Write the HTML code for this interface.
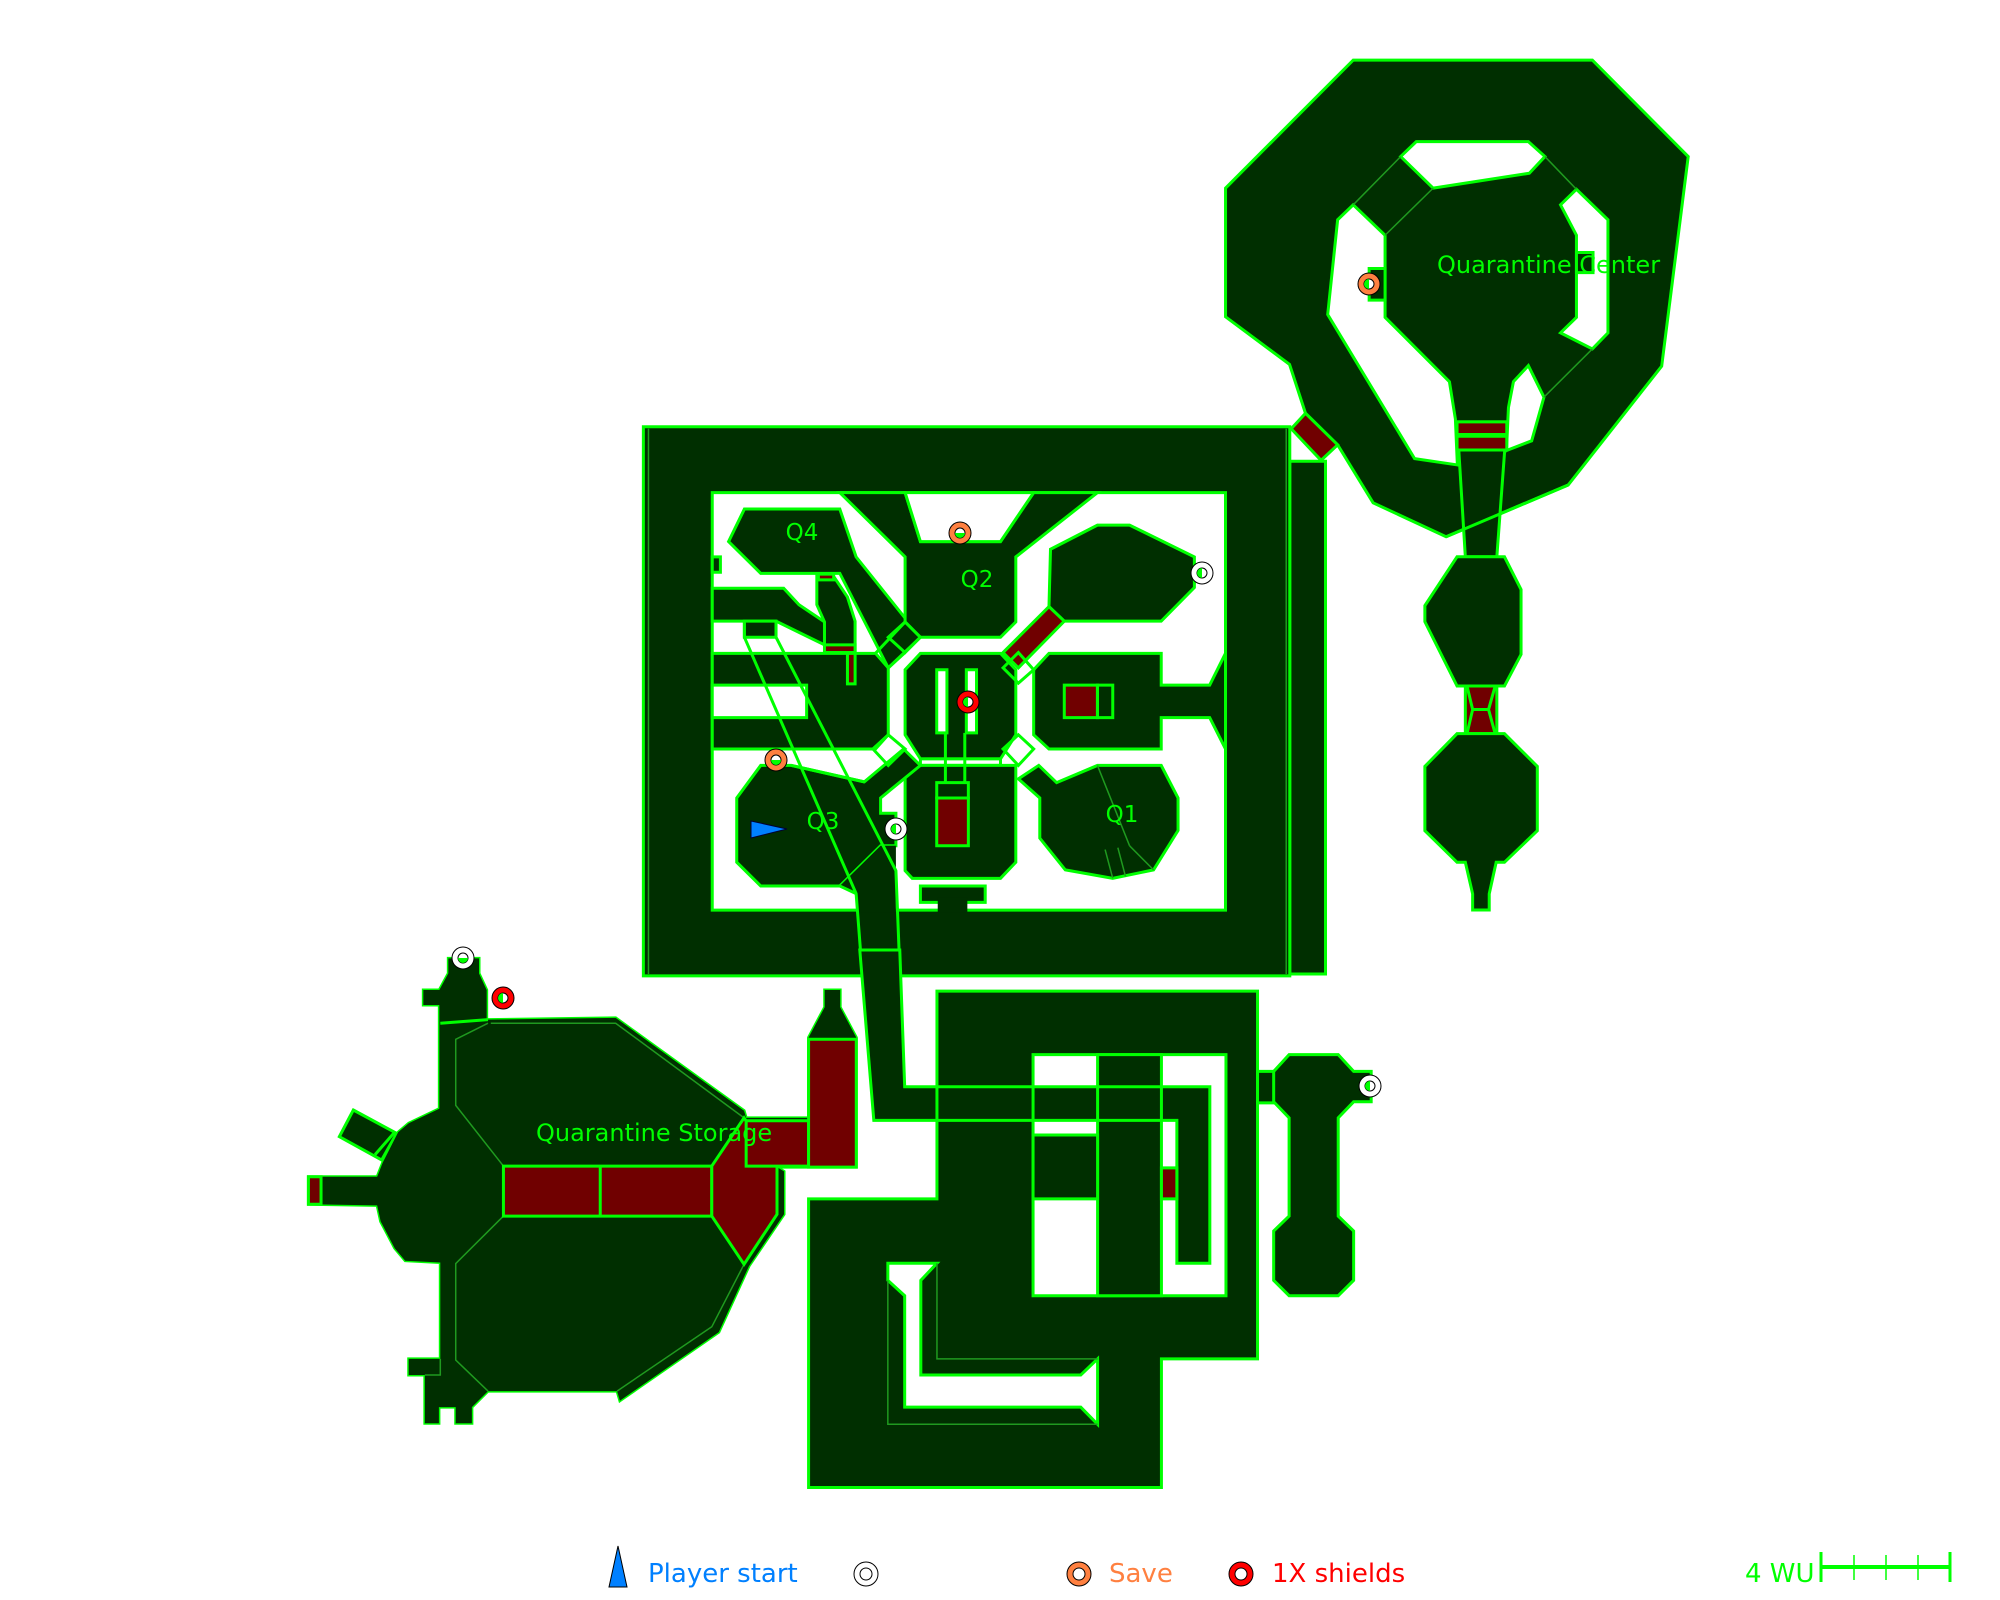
<!DOCTYPE html>
<html><head><meta charset="utf-8"><style>
html,body{margin:0;padding:0;background:#fff;}
svg{display:block;}
.d{fill:#002f00;stroke:#00ff00;stroke-width:3;vector-effect:non-scaling-stroke;stroke-linejoin:miter;}
.w{fill:#fff;stroke:#00ff00;stroke-width:3;vector-effect:non-scaling-stroke;}
.m{fill:#700000;stroke:#00ff00;stroke-width:3;vector-effect:non-scaling-stroke;}
.l{fill:none;stroke:#00ff00;stroke-width:3;vector-effect:non-scaling-stroke;}
.t{fill:none;stroke:#1f9a1f;stroke-width:1.5;vector-effect:non-scaling-stroke;}
.f{fill:#002f00;stroke:none;}
text{font-family:"DejaVu Sans","Liberation Sans",sans-serif;}
</style></head><body>
<svg width="2000" height="1600" viewBox="0 0 2000 1600" xmlns="http://www.w3.org/2000/svg">
<rect width="2000" height="1600" fill="#fff"/>

<g transform="translate(600,400) scale(0.5102,0.38265)">
<rect class="d" x="1352" y="160" width="70" height="1340"/>
<rect class="d" x="85" y="70" width="1267" height="1435"/>
<line class="t" x1="95" y1="75" x2="95" y2="1500"/>
<line class="t" x1="1345" y1="75" x2="1345" y2="1500"/>
<rect class="w" x="220" y="242" width="1006" height="1091"/>
<polygon class="d" points="220,492 360,492 390,535 440,580 440,640 345,578 220,578"/>
<polygon class="d" points="220,662 540,662 565,700 565,875 540,912 220,912"/>
<rect class="w" x="220" y="745" width="185" height="85"/>
<rect class="d" x="220" y="410" width="16" height="40"/>
<polygon class="d" points="425,455 455,455 485,515 500,578 500,660 440,660 440,580 425,535"/>
<rect class="m" x="440" y="640" width="60" height="20"/>
<rect class="m" x="428" y="455" width="30" height="15"/>
<rect class="m" x="485" y="662" width="15" height="80"/>
<polygon class="d" points="283,285 470,285 502,410 628,620 565,700 470,453 315,453 252,370"/>
<polygon class="d" points="470,242 598,242 628,370 785,370 850,242 975,242 815,410 815,580 785,620 628,620 598,580 598,410"/>
<polygon class="w" points="598,242 850,242 785,370 628,370"/>
<polygon class="d" points="628,662 785,662 815,705 815,875 785,938 628,938 598,875 598,705"/>
<rect class="w" x="628" y="938" width="157" height="17"/>
<polygon class="d" points="598,955 815,955 815,1208 785,1250 612,1250 598,1230"/>
<rect class="w" x="660" y="705" width="20" height="165"/>
<rect class="w" x="718" y="705" width="20" height="165"/>
<line class="l" x1="677" y1="870" x2="677" y2="1000"/>
<line class="l" x1="715" y1="870" x2="715" y2="1000"/>
<rect class="l" x="660" y="1000" width="62" height="40"/>
<rect class="m" x="660" y="1040" width="62" height="125"/>
<polygon class="d" points="883,390 975,327 1038,327 1165,410 1165,490 1100,578 910,578 880,540"/>
<polygon class="m" points="880,540 910,578 820,700 790,660"/>
<polygon class="d" points="850,705 880,662 1100,662 1100,745 1195,745 1226,662 1226,912 1195,830 1100,830 1100,912 880,912 850,875"/>
<rect class="m" x="910" y="745" width="65" height="85"/>
<rect class="l" x="975" y="745" width="30" height="85"/>
<polygon class="d" points="895,1000 975,955 1100,955 1133,1040 1133,1125 1085,1228 1005,1250 912,1228 862,1145 862,1040 820,990 860,955"/>
<line class="t" x1="975" y1="955" x2="1038" y2="1165"/>
<line class="t" x1="1038" y1="1165" x2="1085" y2="1228"/>
<line class="t" x1="990" y1="1175" x2="1005" y2="1250"/>
<line class="t" x1="1015" y1="1170" x2="1030" y2="1245"/>
<polygon class="d" points="315,955 375,955 518,998 595,912 628,955 550,1040 550,1080 580,1080 580,1165 550,1165 470,1270 315,1270 268,1208 268,1040"/>
<polygon class="f" points="470,1270 550,1165 580,1165 580,1340 502,1340 502,1290"/>
<polygon class="d" points="283,578 345,578 345,620 283,620"/>
<polyline class="l" points="283,578 283,620 502,1290 518,1568"/>
<polyline class="l" points="345,578 345,620 580,1230 590,1568"/>
<line class="l" x1="470" y1="1270" x2="502" y2="1290"/>
<line class="l" x1="375" y1="955" x2="518" y2="998"/>
<rect class="d" x="628" y="1270" width="127" height="43"/>
<rect class="f" x="662" y="1300" width="58" height="40"/>
<polygon class="l" points="598,580 628,620 598,660 565,620"/>
<polygon class="l" points="565,875 598,912 565,955 535,912"/>
<polygon class="l" points="820,660 850,705 820,740 790,700"/>
<polygon class="l" points="820,875 850,912 820,955 790,912"/>
<line class="l" x1="598" y1="580" x2="540" y2="662"/>
<line class="l" x1="598" y1="660" x2="565" y2="700"/>
<line class="l" x1="535" y1="912" x2="565" y2="875"/>
</g>

<g transform="translate(1200,40) scale(0.33167,0.57423)">
<polygon class="d" points="462,35 1183,35 1472,203 1392,568 1110,775 742,865 522,806 415,705 318,650 270,565 77,482 77,258"/>
<polygon class="w" points="415,313 462,287 558,340 558,483 752,595 770,660 776,740 647,729 385,478"/>
<polygon class="w" points="605,203 652,177 990,177 1040,203 993,232 703,258"/>
<polygon class="w" points="1087,287 1135,260 1230,313 1230,510 1183,538 1087,510 1135,483 1135,340"/>
<polygon class="w" points="930,640 945,595 990,567 1037,622 1000,698 924,715"/>
<polyline class="l" points="776,740 815,742 924,715"/>
<polygon class="d" points="775,665 925,665 895,900 800,900"/>
<rect class="m" x="775" y="665" width="150" height="22"/>
<rect class="m" x="775" y="690" width="150" height="24"/>
<line class="l" x1="742" y1="865" x2="1110" y2="775"/>
<line class="t" x1="462" y1="287" x2="605" y2="203"/>
<line class="t" x1="558" y1="340" x2="703" y2="258"/>
<line class="t" x1="1040" y1="203" x2="1135" y2="260"/>
<line class="t" x1="1183" y1="538" x2="1037" y2="622"/>
<polygon class="m" points="275,677 318,650 415,705 365,732"/>
<rect class="d" x="510" y="398" width="48" height="55"/>
<rect class="d" x="1135" y="370" width="50" height="35"/>
<polygon class="d" points="775,900 918,900 968,957 968,1070 918,1125 775,1125 678,1013 678,985"/>
<polygon class="m" points="800,1125 895,1125 895,1208 800,1208"/>
<polyline class="l" points="805,1125 822,1166 805,1208"/>
<polyline class="l" points="890,1125 870,1166 890,1208"/>
<line class="l" x1="822" y1="1166" x2="870" y2="1166"/>
<polygon class="d" points="775,1208 918,1208 1017,1265 1017,1377 918,1432 893,1432 872,1487 872,1515 822,1515 822,1487 800,1432 775,1432 678,1377 678,1265"/>
</g>

<g transform="translate(300,940) scale(0.33333)">
<polygon class="d" points="445,55 537,55 537,100 560,150 560,520 418,520 418,195 370,195 370,150 418,150 445,100"/>
<polygon class="d" points="160,510 290,580 245,660 118,590"/>
</g>
<g transform="translate(300,950) scale(0.70149,0.35714)">
<polygon class="d" points="268,195 450,190 633,450 636,470 725,470 725,245 748,160 748,112 770,112 770,160 793,245 793,608 680,608 690,620 690,740 640,885 597,1070 456,1262 452,1235 268,1235 245,1280 245,1325 222,1325 222,1280 198,1280 198,1325 178,1325 178,1190 155,1190 155,1145 200,1145 200,875 150,870 135,835 115,760 110,715 12,712 12,635 110,635 118,595 140,510 155,485 200,443 200,205"/>
</g>
<g transform="translate(300,940) scale(0.33333)">
<polygon class="f" points="445,55 537,55 537,100 560,150 560,520 418,520 418,195 370,195 370,150 418,150 445,100"/>
</g>
<g transform="translate(300,950) scale(0.70149,0.35714)">
<polygon class="f" points="268,195 450,190 633,450 636,470 725,470 725,245 748,160 748,112 770,112 770,160 793,245 793,608 680,608 690,620 690,740 640,885 597,1070 456,1262 452,1235 268,1235 245,1280 245,1325 222,1325 222,1280 198,1280 198,1325 178,1325 178,1190 155,1190 155,1145 200,1145 200,875 150,870 135,835 115,760 110,715 12,712 12,635 110,635 118,595 140,510 155,485 200,443 200,205"/>
<polyline class="l" points="200,205 268,195"/>
<polyline class="t" points="272,205 450,205 633,470"/>
<polyline class="t" points="268,205 222,250 222,435 290,605"/>
<polyline class="t" points="290,745 222,878 222,1148 268,1235"/>
<polyline class="t" points="452,1235 587,1055 633,880"/>
<polyline class="t" points="178,1190 200,1190 200,1145"/>
<rect class="m" x="290" y="605" width="297" height="140"/>
<line class="l" x1="428" y1="605" x2="428" y2="745"/>
<polygon class="m" points="587,605 633,470 680,608 680,740 633,880 587,745"/>
<rect class="m" x="636" y="478" width="89" height="127"/>
<rect class="m" x="725" y="250" width="68" height="358"/>
<rect class="m" x="12" y="635" width="18" height="77"/>
<line class="l" x1="107" y1="573" x2="135" y2="510"/>

<polygon class="d" points="908,115 1365,115 1365,1145 1228,1145 1228,1505 725,1505 725,697 908,697"/>
<rect class="w" x="1045" y="293" width="275" height="675"/>
<rect class="d" x="1137" y="293" width="91" height="675"/>
<rect class="d" x="1045" y="518" width="92" height="179"/>
<polygon class="d" points="798,0 855,0 862,383 1297,383 1297,877 1250,877 1250,477 818,477"/>
<line class="l" x1="908" y1="383" x2="908" y2="477"/>
<line class="l" x1="1045" y1="383" x2="1045" y2="477"/>
<line class="l" x1="1137" y1="383" x2="1137" y2="477"/>
<line class="l" x1="1228" y1="383" x2="1228" y2="477"/>
<rect class="m" x="1228" y="610" width="22" height="87"/>
<polygon class="w" points="838,877 908,877 885,925 885,1190 1113,1190 1137,1145 1137,1328 1113,1280 862,1280 862,968 838,925"/>
<polyline class="t" points="838,925 838,1328 1137,1328"/>
<polyline class="t" points="908,877 908,1145 1137,1145"/>
<rect class="d" x="1365" y="340" width="25" height="88"/>
<polygon class="d" points="1410,293 1480,293 1502,340 1527,340 1527,425 1502,425 1480,470 1480,745 1502,787 1502,925 1480,968 1410,968 1388,925 1388,787 1410,745 1410,470 1388,425 1388,340"/>
</g>

<g stroke="#000" stroke-width="1">
<g transform="translate(960,533)"><circle r="11" fill="#ff8040"/><circle r="5" fill="#fff"/><path d="M-5,0 A5,5 0 0 0 5,0Z" fill="#0f0" stroke="none"/></g>
<g transform="translate(776,760)"><circle r="11" fill="#ff8040"/><circle r="5" fill="#fff"/><path d="M-5,0 A5,5 0 0 0 5,0Z" fill="#0f0" stroke="none"/></g>
<g transform="translate(1369,284)"><circle r="11" fill="#ff8040"/><circle r="5" fill="#fff"/><path d="M0,-5 A5,5 0 0 0 0,5Z" fill="#0f0" stroke="none"/></g>
<g transform="translate(1202,573)"><circle r="11" fill="#fff"/><circle r="5" fill="#fff"/><path d="M0,-5 A5,5 0 0 0 0,5Z" fill="#0f0" stroke="none"/></g>
<g transform="translate(896,829)"><circle r="11" fill="#fff"/><circle r="5" fill="#fff"/><path d="M0,-5 A5,5 0 0 0 0,5Z" fill="#0f0" stroke="none"/></g>
<g transform="translate(463,958)"><circle r="11" fill="#fff"/><circle r="5" fill="#fff"/><path d="M-5,0 A5,5 0 0 0 5,0Z" fill="#0f0" stroke="none"/></g>
<g transform="translate(1370,1086)"><circle r="11" fill="#fff"/><circle r="5" fill="#fff"/><path d="M0,-5 A5,5 0 0 0 0,5Z" fill="#0f0" stroke="none"/></g>
<g transform="translate(968,702)"><circle r="11" fill="#f00"/><circle r="5" fill="#fff"/><path d="M0,-5 A5,5 0 0 0 0,5Z" fill="#0f0" stroke="none"/></g>
<g transform="translate(503,998)"><circle r="11" fill="#f00"/><circle r="5" fill="#fff"/><path d="M0,-5 A5,5 0 0 0 0,5Z" fill="#0f0" stroke="none"/></g>
<polygon points="751,821 787,829 751,838" fill="#0080ff" stroke="#003"/>
</g>

<g fill="#00ff00" font-size="23">
<text x="802" y="540" text-anchor="middle">Q4</text>
<text x="977" y="587" text-anchor="middle">Q2</text>
<text x="823" y="829" text-anchor="middle">Q3</text>
<text x="1122" y="822" text-anchor="middle">Q1</text>
<text x="536" y="1141" font-size="24">Quarantine Storage</text>
<text x="1437" y="273" font-size="24">Quarantine Center</text>
</g>

<polygon points="618,1546 627,1587 609,1587" fill="#0080ff" stroke="#000" stroke-width="1"/>
<text x="648" y="1582" font-size="26" fill="#0080ff">Player start</text>
<circle cx="866" cy="1574" r="12" fill="#fff" stroke="#000" stroke-width="1"/><circle cx="866" cy="1574" r="6" fill="#fff" stroke="#000" stroke-width="1"/>
<circle cx="1079" cy="1574" r="12" fill="#ff8040" stroke="#000" stroke-width="1"/><circle cx="1079" cy="1574" r="6" fill="#fff" stroke="#000" stroke-width="1"/>
<text x="1109" y="1582" font-size="26" fill="#ff8040">Save</text>
<circle cx="1241" cy="1574" r="12" fill="#f00" stroke="#000" stroke-width="1"/><circle cx="1241" cy="1574" r="6" fill="#fff" stroke="#000" stroke-width="1"/>
<text x="1272" y="1582" font-size="26" fill="#f00">1X shields</text>
<text x="1745" y="1582" font-size="26" fill="#00ff00">4 WU</text>
<g stroke="#00ff00">
<line x1="1821" y1="1567" x2="1950" y2="1567" stroke-width="4"/>
<line x1="1821" y1="1552" x2="1821" y2="1582" stroke-width="3"/>
<line x1="1950" y1="1552" x2="1950" y2="1582" stroke-width="3"/>
<line x1="1854" y1="1555" x2="1854" y2="1580" stroke-width="1.5"/>
<line x1="1886" y1="1555" x2="1886" y2="1580" stroke-width="1.5"/>
<line x1="1918" y1="1555" x2="1918" y2="1580" stroke-width="1.5"/>
</g>
</svg>
</body></html>
